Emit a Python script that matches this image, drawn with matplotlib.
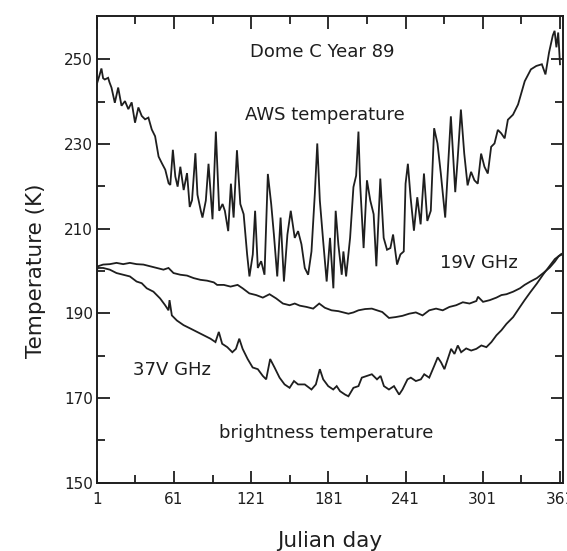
import matplotlib
matplotlib.use("Agg")
import matplotlib.pyplot as plt
from matplotlib.ticker import FixedLocator

# ---- data ----
aws_day = [1, 3, 4.7, 6, 7.3, 9.9, 11, 12.5, 15.1, 17.7, 20.3, 23, 25.6, 28.2, 30.8, 33.4, 36, 38.6,
           41.2, 43.8, 46.4, 49.1, 51.7, 54.3, 56.9, 58.2, 60.2, 62.1, 63.9, 66, 68.6, 71.2, 73.3,
           75.1, 77.7, 79.3, 81.9, 83.2, 85.8, 87.9, 91, 93.6, 96.2, 98.8, 100.6, 103.2, 105.3,
           107.4, 110, 112.6, 115.2, 117.9, 119.7, 122.3, 124.1, 126.2, 128.8, 131.4, 134, 136.6,
           138.7, 141.3, 143.9, 146.5, 149.2, 151.8, 154.9, 157.5, 160.1, 162.7, 165.3, 167.9,
           170.5, 172.4, 174.4, 177.0, 179.7, 182.3, 184.9, 186.7, 188.8, 191.4, 192.7, 194.8,
           197.9, 200.5, 202.6, 204.4, 205.7, 208.4, 211.0, 213.6, 216.2, 218.3, 221.4, 224.0,
           226.6, 229.2, 231.3, 234.4, 237.0, 239.6, 241.0, 242.8, 244.9, 247.5, 250.1, 252.7,
           255.3, 257.9, 260.6, 263.2, 265.8, 268.4, 271.8, 273.6, 276.2, 279.6, 281.4, 284.0,
           286.6, 289.2, 291.9, 294.5, 297.1, 299.7, 302.3, 304.9, 307.5, 310.1, 312.7, 315.3,
           318.0, 320.5, 324.5, 328.4, 333.6, 338.4, 342.6, 346.9, 349.7, 352.5, 355.4, 356.8,
           358.2, 359.6, 361]
aws_temp = [244.0, 246.0, 247.8, 245.5, 245.2, 245.6, 244.5, 243.3, 239.7, 243.3, 239.0, 240.1,
            238.2, 239.8, 235.0, 238.6, 236.6, 235.8, 236.2, 233.4, 231.8, 227.0, 225.4, 223.9,
            220.7, 220.3, 228.6, 222.3, 219.9, 224.6, 219.1, 223.1, 215.1, 216.7, 227.8, 218.0,
            214.2, 212.6, 216.6, 225.3, 212.2, 232.9, 214.2, 215.8, 214.2, 209.4, 220.6, 212.6,
            228.5, 215.8, 213.4, 203.9, 198.7, 203.9, 214.2, 200.7, 202.3, 199.1, 222.9, 215.8,
            208.6, 198.7, 212.6, 197.5, 208.6, 214.2, 207.8, 209.4, 206.3, 200.7, 199.1, 204.6,
            218.2, 230.1, 216.6, 207.0, 197.5, 207.8, 195.9, 214.2, 206.2, 199.1, 204.6, 198.7,
            207.8, 219.8, 222.5, 232.9, 220.6, 205.4, 221.4, 216.6, 213.4, 201.1, 221.8, 207.8,
            205.0, 205.4, 208.6, 201.5, 203.9, 204.6, 220.6, 225.3, 217.4, 209.5, 217.4, 211.0,
            223.0, 211.8, 214.2, 233.7, 230.1, 223.0, 212.6, 222.2, 236.5, 218.6, 226.1, 238.1,
            227.7, 220.2, 223.4, 221.4, 220.6, 227.7, 224.6, 223.0, 229.3, 230.1, 233.3, 232.5,
            231.3, 235.7, 236.9, 239.3, 244.8, 247.6, 248.4, 248.8, 246.4, 251.6, 255.6, 256.7,
            252.8, 256.3, 248.8]

v19_day = [1, 2, 6, 11.2, 16.4, 21.6, 26.8, 32, 37.3, 42.5, 47.7, 52.9, 56.8, 60.7, 66, 71.2,
           76.4, 81.6, 86.8, 92, 94.6, 99.8, 105, 110.5, 114.4, 119.6, 124.9, 130.1, 135.3, 140.5,
           145.7, 150.9, 154.9, 158.8, 164, 169.2, 173.9, 178.3, 183.5, 188.8, 192.7, 196.6,
           200.5, 204.4, 209.6, 214.8, 218.8, 222.9, 228.1, 233.3, 238.6, 243.8, 249, 254.2,
           259.4, 264.7, 269.9, 275.1, 280.3, 285.5, 290.7, 296, 297.3, 301.2, 306.4, 311.6,
           315.5, 319.4, 324.6, 329.9, 333.5, 338, 343, 348, 353, 357, 360, 362]
v19_temp = [200.5, 201.1, 201.5, 201.6, 201.9, 201.6, 201.9, 201.6, 201.5, 201.1, 200.7, 200.3,
            200.7, 199.5, 199.1, 198.9, 198.3, 197.9, 197.7, 197.3, 196.7, 196.7, 196.3, 196.7,
            195.9, 194.7, 194.3, 193.7, 194.5, 193.5, 192.3, 191.9, 192.3, 191.8, 191.5, 191.1,
            192.3, 191.3, 190.7, 190.5, 190.2, 189.9, 190.2, 190.7, 191.0, 191.1, 190.7, 190.3,
            188.9, 189.1, 189.4, 189.9, 190.2, 189.5, 190.7, 191.1, 190.7, 191.5, 191.9, 192.6,
            192.3, 192.9, 193.9, 192.7, 193.1, 193.7, 194.3, 194.5, 195.1, 195.9, 196.7, 197.5,
            198.3, 199.5, 200.8, 202.2, 203.5, 204.0]

v37_day = [1, 2, 6, 11.2, 16.4, 21.6, 26.8, 32, 36, 39.9, 45.1, 50.3, 54.2, 56.8, 57.6, 59.4,
           63.3, 68.5, 73.8, 79, 84.2, 89.4, 93.3, 95.9, 98.5, 102.5, 106.4, 109.2, 111.8, 114.4,
           118.3, 122.2, 126.2, 130.1, 132.7, 135.8, 139.2, 143.1, 147, 150.9, 154.3, 157.5,
           162.7, 167.9, 171.3, 174.4, 177, 180.9, 184.8, 187.5, 190.1, 194, 196.6, 200.5, 204.4,
           207, 210.9, 214.8, 218.8, 221.6, 224.2, 228.1, 232, 236, 238.6, 242.5, 245.1, 249,
           252.9, 255.5, 259.4, 263.3, 266, 268.6, 271.2, 273.8, 276.4, 279, 281.6, 284.2, 288.1,
           292, 296, 299.9, 303.8, 307.7, 311.6, 315.5, 319.4, 324.6, 329.9, 333.5, 338, 343,
           348, 353, 357, 360, 362]
v37_temp = [200.2, 200.7, 200.7, 200.3, 199.5, 199.1, 198.7, 197.5, 197.1, 195.9, 195.1, 193.5,
            191.9, 190.7, 193.1, 189.5, 188.3, 187.2, 186.4, 185.6, 184.8, 184.0, 183.2, 185.6,
            182.8, 182.0, 180.8, 181.6, 184.0, 181.6, 179.2, 177.2, 176.8, 175.2, 174.4, 179.2,
            177.2, 174.8, 173.2, 172.4, 174.0, 173.2, 173.2, 172.0, 173.2, 176.8, 174.4, 172.8,
            172.0, 172.8, 171.6, 170.8, 170.4, 172.4, 172.8, 174.8, 175.2, 175.6, 174.4, 175.2,
            172.8, 172.0, 172.8, 170.8, 172.0, 174.4, 174.8, 174.0, 174.4, 175.6, 174.8, 177.6,
            179.6, 178.4, 176.8, 179.2, 181.6, 180.4, 182.4, 180.8, 181.7, 181.2, 181.6, 182.4,
            182.0, 183.2, 184.8, 186.0, 187.5, 189.1, 191.5, 193.1, 195.0, 197.0, 199.2, 201.2,
            202.8, 203.5, 203.8]

x_ticks = [1, 61, 121, 181, 241, 301, 361]
x_minor = [31, 91, 151, 211, 271, 331]
y_ticks = [150, 170, 190, 210, 230, 250]
y_minor = [160, 180, 200, 220, 240]

# ---- figure ----
ink = "#1e1e1e"
plt.rcParams['font.family'] = ['DejaVu Sans']
fig = plt.figure(figsize=(5.67, 5.51), dpi=100)
ax = fig.add_axes([0.1705, 0.124, 0.8217, 0.847])

for d, t in ((aws_day, aws_temp), (v19_day, v19_temp), (v37_day, v37_temp)):
    ax.plot(d, t, color=ink, lw=1.3, solid_joinstyle='miter')

ax.set_xlim(1, 363)
ax.set_ylim(150, 260.2)
ax.xaxis.set_major_locator(FixedLocator(x_ticks))
ax.xaxis.set_minor_locator(FixedLocator(x_minor))
ax.yaxis.set_major_locator(FixedLocator(y_ticks))
ax.yaxis.set_minor_locator(FixedLocator(y_minor))
ax.tick_params(which='both', direction='in', top=True, right=True, color=ink, width=1.3,
               labelsize=11, labelcolor=ink)
ax.tick_params(which='major', length=9)
ax.tick_params(which='minor', length=5.5)
ax.tick_params(axis='y', pad=2.5)
ax.tick_params(axis='x', pad=7)
for s in ax.spines.values():
    s.set_linewidth(1.4)
    s.set_color(ink)

ax.set_xlabel("Julian day", fontsize=15.5, color=ink, va='baseline')
ax.set_ylabel("Temperature (K)", fontsize=15.5, color=ink, va='center')
ax.xaxis.set_label_coords(0.5, -0.137)
ax.yaxis.set_label_coords(-0.130, 0.4536)

kw = dict(ha='center', va='center', fontsize=13, color=ink)
ax.text(176.4, 251.8, "Dome C Year 89", **kw)
ax.text(178, 236.8, "AWS temperature", **kw)
ax.text(298, 201.9, "19V GHz", **kw)
ax.text(59.5, 176.6, "37V GHz", **kw)
ax.text(179.6, 161.8, "brightness temperature", **kw)

fig.savefig("out.png", dpi=100, facecolor='white')
